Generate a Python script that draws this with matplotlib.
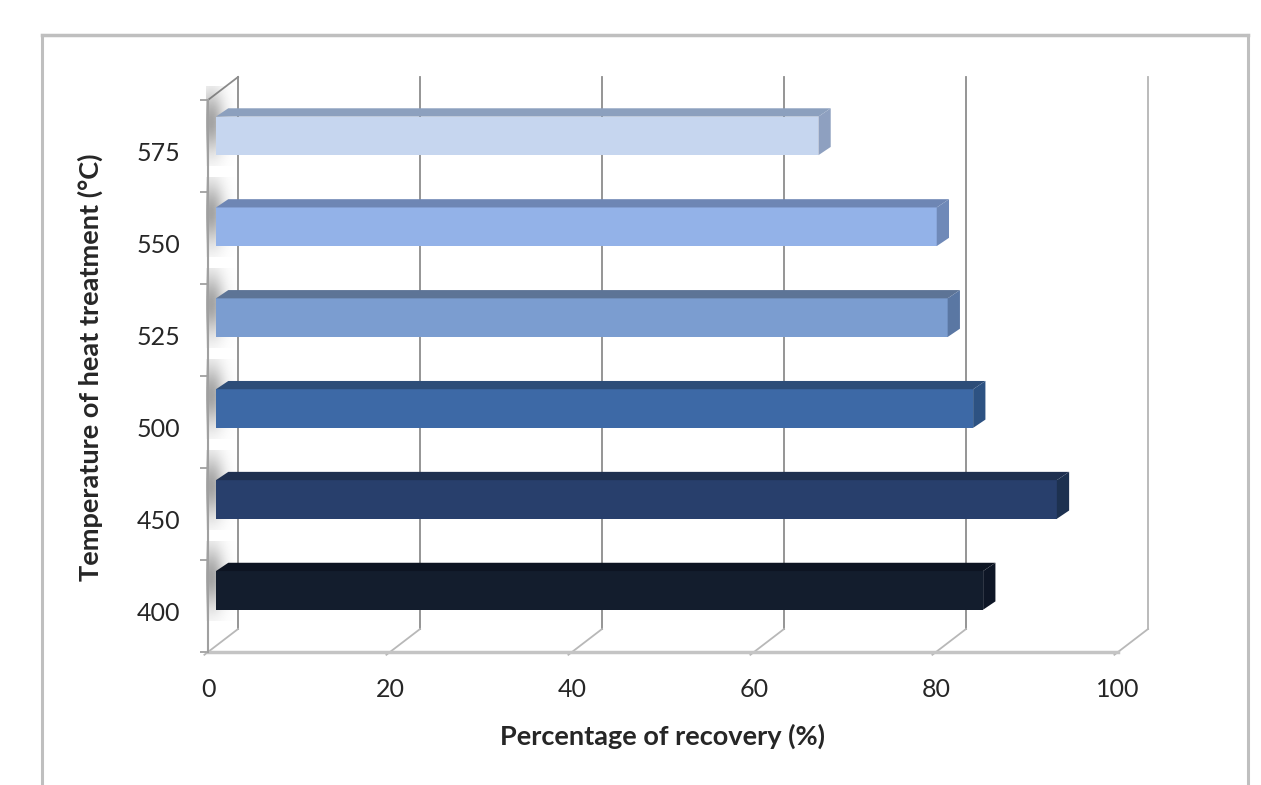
import matplotlib
matplotlib.use("Agg")
import matplotlib.pyplot as plt
import numpy as np
from matplotlib.patches import Polygon, Rectangle
from matplotlib.lines import Line2D

# ---- data ----
temperatures = ["400", "450", "500", "525", "550", "575"]
recovery = [84.3, 92.4, 83.2, 80.4, 79.2, 66.2]
x_ticks = [0, 20, 40, 60, 80, 100]
front_colors = ["#131d2d", "#283f6c", "#3d69a6", "#7b9dd0", "#93b2e8", "#c6d6ef"]
top_colors = ["#0d1422", "#1f3050", "#2d4d78", "#5d7496", "#6e86b4", "#8ca0be"]
side_colors = ["#0e1626", "#1d3150", "#2d5282", "#5a77a3", "#6f89b8", "#8ea0c0"]

plt.rcParams['font.family'] = ['Lato', 'DejaVu Sans']

W, H = 1261, 785
fig = plt.figure(figsize=(W / 100, H / 100), dpi=100)
fig.patch.set_facecolor("white")

# outer chart border
bc = "#bfbfbf"
fig.add_artist(Line2D([42 / W, 1248 / W], [1 - 35 / H, 1 - 35 / H], transform=fig.transFigure, color=bc, lw=2.5))
fig.add_artist(Line2D([42 / W, 42 / W], [0, 1 - 35 / H], transform=fig.transFigure, color=bc, lw=2.2))
fig.add_artist(Line2D([1248 / W, 1248 / W], [0, 1 - 35 / H], transform=fig.transFigure, color=bc, lw=2.2))

ax = fig.add_axes([208 / W, 133 / H, 910 / W, 552 / H])
ax.set_facecolor("none")
ncat = len(temperatures)

# depth offsets (data units) for full wall depth
DX, DY = 3.3, 0.25

def P(x, y, d):
    return (x + d * DX, y + d * DY)

# back wall gridlines
for v in x_ticks:
    col = "#8c8c8c" if v < 100 else "#b5b5b5"
    a = P(v, 0, 1)
    b = P(v, ncat, 1)
    ax.plot([a[0], b[0]], [a[1], b[1]], color=col, lw=1.3, clip_on=False, zorder=1)
    c = P(v, 0, -0.12)
    ax.plot([a[0], c[0]], [a[1], c[1]], color="#b8b8b8", lw=1.3, clip_on=False, zorder=1)

# side wall top diagonal
a = P(0, ncat, 1)
b = P(0, ncat, 0)
ax.plot([a[0], b[0]], [a[1], b[1]], color="#8c8c8c", lw=1.3, clip_on=False, zorder=1)

# bar geometry
xl = 0.88
bh = 0.42
bdx, bdy = 1.35, 0.09
step = 0.988
base = 0.46

# soft shadows on the side wall
nx, ny = 60, 60
gx = np.linspace(0, 1, nx)
gy = np.linspace(0, 1, ny)
fx = np.exp(-((gx - 0.15) / 0.42) ** 2)
fy = np.exp(-((gy - 0.55) / 0.38) ** 2)
alpha = 0.6 * np.outer(fy, fx)
rgba = np.zeros((ny, nx, 4))
rgba[..., :3] = 0.4
rgba[..., 3] = alpha
for i in range(ncat):
    yb = base + i * step
    ext = (-0.2, DX, yb - 0.12, yb + bh + 0.32)
    im = ax.imshow(rgba, extent=ext, origin="lower", aspect="auto",
                   interpolation="bilinear", zorder=1.5, clip_on=False)
    poly = Polygon([(0, yb - 0.12), (0, yb + bh + 0.32), (DX, yb + bh + 0.32 + DY), (DX, yb - 0.12 + DY)],
                   closed=True, transform=ax.transData)
    im.set_clip_path(poly)
ax.set_xlim(0, 100)
ax.set_ylim(0, ncat)

for i, v in enumerate(recovery):
    yb = base + i * step
    ax.add_patch(Rectangle((xl, yb), v, bh, facecolor=front_colors[i], edgecolor="none", zorder=3, clip_on=False))
    ax.add_patch(Polygon([(xl, yb + bh), (xl + v, yb + bh), (xl + v + bdx, yb + bh + bdy), (xl + bdx, yb + bh + bdy)],
                         closed=True, facecolor=top_colors[i], edgecolor="none", zorder=3, clip_on=False))
    ax.add_patch(Polygon([(xl + v, yb), (xl + v + bdx, yb + bdy), (xl + v + bdx, yb + bh + bdy), (xl + v, yb + bh)],
                         closed=True, facecolor=side_colors[i], edgecolor="none", zorder=3, clip_on=False))

for s in ["top", "right"]:
    ax.spines[s].set_visible(False)
ax.spines["left"].set_color("#a0a0a0")
ax.spines["left"].set_linewidth(1.5)
ax.spines["bottom"].set_color("#c4c4c4")
ax.spines["bottom"].set_linewidth(2.5)
ax.spines["left"].set_zorder(4)

ax.set_xticks(x_ticks)
ax.set_xticklabels([str(t) for t in x_ticks])
ax.tick_params(axis="x", length=0, pad=19, labelsize=18, labelcolor="#262626")
ax.set_yticks([i + 0.44 for i in range(ncat)])
ax.set_yticklabels(temperatures)
ax.set_yticks(range(ncat + 1), minor=True)
ax.tick_params(axis="y", which="major", length=0, pad=20, labelsize=18, labelcolor="#262626")
ax.tick_params(axis="y", which="minor", length=6, width=1.3, color="#a0a0a0", direction="out")

ax.set_xlabel("Percentage of recovery (%)", fontsize=19.5, fontweight="bold", color="#262626")
ax.xaxis.set_label_coords(0.5, -0.13)
ax.xaxis.label.set_verticalalignment("top")
ax.set_ylabel("Temperature of heat treatment (°C)", fontsize=19.5, fontweight="bold", color="#262626")
ax.yaxis.set_label_coords(-0.1297, 0.515)
ax.yaxis.label.set_verticalalignment("center")

fig.savefig("out.png", dpi=100)
